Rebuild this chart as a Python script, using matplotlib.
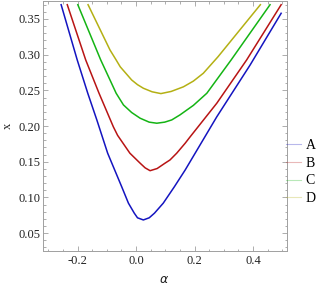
import matplotlib
matplotlib.use("Agg")
import matplotlib.pyplot as plt
from matplotlib.ticker import MultipleLocator, FormatStrFormatter
from matplotlib.lines import Line2D

# Data
alpha_A = [-0.256, -0.201, -0.165, -0.134, -0.097, -0.049, -0.026, -0.006, 0.005, 0.025, 0.045, 0.063, 0.093, 0.131, 0.168, 0.276, 0.390, 0.496]
x_A     = [0.370, 0.2926, 0.246, 0.2086, 0.162, 0.115, 0.092, 0.078, 0.0715, 0.0685, 0.0715, 0.078, 0.092, 0.115, 0.1385, 0.213, 0.2856, 0.358]

alpha_B = [-0.235, -0.172, -0.1265, -0.0776, -0.063, -0.021, 0.014, 0.031, 0.048, 0.072, 0.099, 0.116, 0.139, 0.168, 0.185, 0.276, 0.378, 0.496]
x_B     = [0.370, 0.2926, 0.246, 0.199, 0.187, 0.162, 0.148, 0.1415, 0.1375, 0.1405, 0.148, 0.1525, 0.162, 0.176, 0.185, 0.232, 0.2926, 0.370]

alpha_C = [-0.199, -0.1207, -0.089, -0.068, -0.043, -0.015, 0.014, 0.045, 0.071, 0.098, 0.122, 0.150, 0.196, 0.242, 0.325, 0.458]
x_C     = [0.370, 0.2926, 0.2646, 0.246, 0.2296, 0.219, 0.211, 0.2055, 0.204, 0.2055, 0.2086, 0.2156, 0.229, 0.246, 0.2926, 0.370]

alpha_D = [-0.164, -0.089, -0.068, -0.054, -0.015, 0.005, 0.025, 0.055, 0.085, 0.120, 0.162, 0.196, 0.230, 0.280, 0.425]
x_D     = [0.370, 0.3066, 0.2926, 0.283, 0.2646, 0.258, 0.253, 0.248, 0.2455, 0.2485, 0.255, 0.263, 0.274, 0.297, 0.370]

labels = ["A", "B", "C", "D"]
colors = ["#1414c0", "#b81414", "#14b414", "#b4b014"]

plt.rcParams['font.family'] = ['Liberation Serif', 'DejaVu Serif']

fig = plt.figure(figsize=(3.2, 2.88), dpi=100)
ax = fig.add_axes([43/320, 37/288, (287-43)/320, (287-37)/288])

for a, xv, c in zip([alpha_A, alpha_B, alpha_C, alpha_D], [x_A, x_B, x_C, x_D], colors):
    ax.plot(a, xv, color=c, lw=1.1, solid_joinstyle='round')

ax.set_xlim(-0.318, 0.516)
ax.set_ylim(0.025, 0.3752)

ax.xaxis.set_major_locator(MultipleLocator(0.2))
ax.xaxis.set_minor_locator(MultipleLocator(0.05))
ax.yaxis.set_major_locator(MultipleLocator(0.05))
ax.yaxis.set_minor_locator(MultipleLocator(0.01))
ax.xaxis.set_major_formatter(FormatStrFormatter('%.1f'))
ax.yaxis.set_major_formatter(FormatStrFormatter('%.2f'))

for s in ax.spines.values():
    s.set_color('#a0a0a0')
    s.set_linewidth(0.7)
ax.tick_params(which='both', direction='in', top=True, right=True, color='#a0a0a0', width=0.6,
               labelsize=9, labelcolor='#222222')
ax.tick_params(which='major', length=3.5)
ax.tick_params(which='minor', length=1.8)
ax.tick_params(axis='x', pad=3)
ax.tick_params(axis='y', pad=1.5)

fig.text(8/320, 1 - 126/288, "x", rotation=90, ha='center', va='center', fontsize=9, color='#222222')
fig.text(164/320, 1 - 280/288, r"$\alpha$", ha='center', va='center', fontsize=9, color='#222222')

handles = [Line2D([0], [0], color=c, lw=0.8, alpha=0.3) for c in colors]
fig.legend(handles, labels, loc='center left', bbox_to_anchor=(286/320, 1 - 172/288),
           frameon=False, fontsize=10, handlelength=1.1, handletextpad=0.3,
           labelspacing=0.35, borderpad=0, borderaxespad=0)

fig.savefig("out.png", dpi=100)
